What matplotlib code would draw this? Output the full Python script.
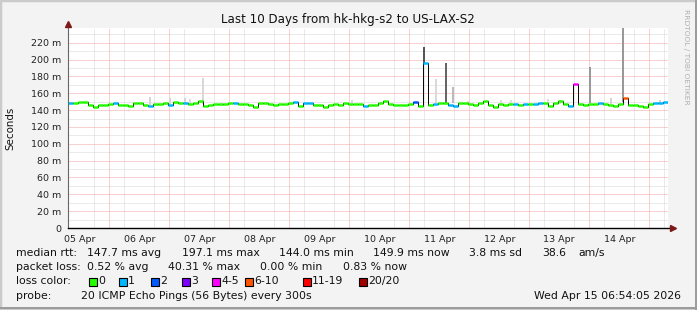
"""
SmokePing style latency graph, 10 days hk-hkg-s2 -> US-LAX-S2.
"""
from datetime import datetime, timedelta

import matplotlib
matplotlib.use("Agg")
import matplotlib.pyplot as plt
import matplotlib.dates as mdates
from matplotlib.ticker import MultipleLocator, FixedLocator, FuncFormatter
from matplotlib.patches import Rectangle

W, H = 697, 310
END = datetime(2026, 4, 15, 7, 30)
START = END - timedelta(days=10)
STEP = timedelta(hours=2)

# median rtt per 2h sample (ms)
MEDIAN_MS = [
    148, 148, 150, 150, 146.3, 144, 146.5, 146.5, 147, 148,
    146.5, 145.5, 145, 149, 148, 146.5, 145, 147, 147, 149,
    146.5, 150, 148.5, 148, 147, 148.5, 150.5, 145, 146.5, 147,
    147.5, 147, 148, 148.5, 147, 147, 146.5, 144, 149, 148,
    147, 146.5, 147, 147.5, 148.5, 149.5, 145, 148, 148, 146.5,
    146.5, 144, 146.5, 147, 146.5, 148, 147, 147, 147, 145,
    146.5, 146.5, 148, 151, 147, 146.5, 146.5, 146.5, 147, 150,
    145, 196.5, 146.5, 147, 148, 149, 146.5, 145, 149, 148,
    147, 146.5, 149, 151, 146.5, 144, 147, 146.5, 147, 147,
    146.5, 147, 147, 147, 148, 149, 145, 149, 151, 147,
    145, 171, 147, 146.5, 147, 147, 149, 147, 146.5, 145,
    147, 154, 146.5, 146.5, 145, 144, 147, 149, 149, 150,
]
# lost pings (of 20) per sample
LOSS = [
    1, 0, 0, 0, 0, 0, 0, 0, 0, 1,
    0, 0, 0, 0, 0, 0, 1, 0, 0, 0,
    1, 0, 0, 1, 0, 0, 0, 0, 0, 0,
    0, 0, 0, 1, 0, 0, 0, 0, 0, 0,
    0, 0, 0, 0, 0, 1, 0, 1, 1, 0,
    0, 0, 0, 0, 0, 0, 0, 0, 0, 1,
    0, 0, 0, 0, 0, 0, 0, 0, 0, 2,
    0, 1, 0, 1, 0, 0, 1, 1, 0, 0,
    0, 0, 0, 0, 0, 0, 0, 0, 0, 1,
    0, 1, 0, 1, 1, 0, 0, 0, 0, 0,
    1, 5, 0, 0, 0, 0, 1, 0, 0, 0,
    0, 8, 0, 0, 0, 0, 0, 1, 1, 1,
]

# smoke columns: position in samples, low/high rtt (ms), shade
SMOKE_POS = [16.4, 20.4, 23.4, 24.4, 27.0, 56.8, 71.2, 73.6, 75.6, 77.0,
             80.0, 86.6, 88.6, 96.0, 98.4, 104.4, 108.6, 111.0, 118.4]
SMOKE_LO = [146, 147, 147, 147, 147, 147, 196, 149, 149, 149,
            147, 147, 147, 147, 147, 148, 147, 150, 147]
SMOKE_HI = [156, 154, 154, 153, 178, 152, 215, 177, 196, 167,
            151, 152, 152, 153, 152, 191, 154, 237, 152]
SMOKE_GREY = ["#d4d4d4", "#d4d4d4", "#d4d4d4", "#dadada", "#d8d8d8", "#dadada",
              "#555555", "#d9d9d9", "#666666", "#bbbbbb", "#dddddd", "#dddddd",
              "#dddddd", "#dddddd", "#dddddd", "#999999", "#d4d4d4", "#999999",
              "#d4d4d4"]

LOSS_LABELS = ["0", "1", "2", "3", "4-5", "6-10", "11-19", "20/20"]
LOSS_COLORS = ["#26ff00", "#00b8ff", "#0059ff", "#7e00ff",
               "#ff00ff", "#ff5500", "#ff0000", "#a00000"]


def loss_bin(n):
    if n <= 3:
        return n
    if n <= 5:
        return 4
    if n <= 10:
        return 5
    if n <= 19:
        return 6
    return 7


def fx(px):
    return px / W


def fy(py):
    return 1 - py / H


fig = plt.figure(figsize=(W / 100, H / 100), dpi=100, facecolor="#f3f3f3")

# rrdtool style 3d frame
fig.patches.append(Rectangle((0, 0), 1, 1, transform=fig.transFigure,
                             fill=False, edgecolor="#cbcbcb", lw=2.5))
fig.patches.append(Rectangle((fx(0), fy(H - 1.5)), 1, fy(0) - fy(1.5),
                             transform=fig.transFigure, color="#9c9c9c", lw=0))
fig.patches.append(Rectangle((fx(W - 2.5), 0), fx(2.5), 1,
                             transform=fig.transFigure, color="#9c9c9c", lw=0))

ax = fig.add_axes([fx(68), fy(228), fx(600), (228 - 28) / H])
ax.set_facecolor("white")

t_edges = [mdates.date2num(START + i * STEP) for i in range(len(MEDIAN_MS) + 1)]
step_days = STEP.total_seconds() / 86400

# smoke
smoke_x = [t_edges[0] + p * step_days for p in SMOKE_POS]
ax.bar(smoke_x, [h - l for l, h in zip(SMOKE_LO, SMOKE_HI)], bottom=SMOKE_LO,
       width=step_days * 0.5, color=SMOKE_GREY, lw=0, zorder=2)

# median: thin black steps, thick loss-coloured plateaus
ax.step(t_edges, MEDIAN_MS + [MEDIAN_MS[-1]], where="post", color="black",
        lw=0.7, zorder=3)
ax.hlines(MEDIAN_MS, t_edges[:-1], t_edges[1:],
          colors=[LOSS_COLORS[loss_bin(n)] for n in LOSS], lw=1.8, zorder=4)

ax.set_xlim(mdates.date2num(START), mdates.date2num(END))
ax.set_ylim(0, 237.5)

# grid: grey minor (not on majors), dotted red majors
dot = (0, (1, 1))
GRID_MINOR = dict(color="#d6d6d6", lw=0.72, ls=dot, zorder=0)
GRID_MAJOR = dict(color="#f4a2a2", lw=0.72, ls=dot, zorder=1)
ax.yaxis.set_major_locator(MultipleLocator(20))
ax.yaxis.set_minor_locator(FixedLocator(range(10, 240, 20)))
ax.yaxis.set_major_formatter(FuncFormatter(lambda v, _: "0" if v == 0 else f"{v:.0f} m"))
ax.xaxis.set_major_locator(mdates.HourLocator(byhour=12))
ax.xaxis.set_minor_locator(mdates.HourLocator(byhour=[6, 12, 18]))
ax.xaxis.set_major_formatter(mdates.DateFormatter("%d %b"))
ax.grid(which="minor", axis="both", **GRID_MINOR)
ax.grid(which="major", axis="y", **GRID_MAJOR)
for d in mdates.DayLocator().tick_values(START, END):
    ax.axvline(d, **GRID_MAJOR)
ax.set_axisbelow(True)

ax.tick_params(which="both", length=0, labelsize=6.8, colors="#222222")
ax.tick_params(axis="x", pad=5)
ax.tick_params(axis="y", pad=5)
for s in ax.spines.values():
    s.set_visible(False)

# axes with arrows
ax.plot([0, 0], [0, 1.015], transform=ax.transAxes, color="#666666", lw=0.8,
        clip_on=False, zorder=5)
ax.plot([0, 1.006], [0, 0], transform=ax.transAxes, color="black", lw=1.0,
        clip_on=False, zorder=5)
ax.plot([0], [1.02], marker="^", ms=4.5, color="#7f1818", transform=ax.transAxes,
        clip_on=False, zorder=6)
ax.plot([1.008], [0], marker=">", ms=4.5, color="#7f1818", transform=ax.transAxes,
        clip_on=False, zorder=6)

# texts
fig.text(fx(348), fy(19), "Last 10 Days from hk-hkg-s2 to US-LAX-S2",
         ha="center", va="center", fontsize=8.6, color="#111111")
fig.text(fx(10), fy(128), "Seconds", rotation=90, ha="center", va="center",
         fontsize=7.4, color="#111111")
fig.text(fx(686), fy(57), "RRDTOOL / TOBI OETIKER", rotation=270, ha="center",
         va="center", fontsize=5.4, color="#b0b0b0")

LEG = 7.8
rows = [
    (253, [(16, "median rtt:"), (87, "147.7 ms avg"), (182, "197.1 ms max"),
           (279, "144.0 ms min"), (373, "149.9 ms now"), (469, "3.8 ms sd"),
           (542, "38.6"), (578, "am/s")]),
    (267, [(16, "packet loss:"), (87, "0.52 % avg"), (168, "40.31 % max"),
           (260, "0.00 % min"), (343, "0.83 % now")]),
    (296, [(16, "probe:"), (81, "20 ICMP Echo Pings (56 Bytes) every 300s")]),
]
for y, items in rows:
    for x, s in items:
        fig.text(fx(x), fy(y), s, ha="left", va="center", fontsize=LEG,
                 color="#111111")
fig.text(fx(681), fy(296), "Wed Apr 15 06:54:05 2026", ha="right", va="center",
         fontsize=LEG, color="#111111")

fig.text(fx(16), fy(281), "loss color:", ha="left", va="center", fontsize=LEG,
         color="#111111")
box_x = [89, 119, 151, 182, 212, 245, 303, 359]
for bx, lab, col in zip(box_x, LOSS_LABELS, LOSS_COLORS):
    fig.patches.append(Rectangle((fx(bx), fy(285.5)), fx(8), 8 / H,
                                 transform=fig.transFigure, facecolor=col,
                                 edgecolor="black", lw=0.8))
    fig.text(fx(bx + 9), fy(281), lab, ha="left", va="center", fontsize=LEG,
             color="#111111")

fig.savefig("out.png", dpi=100, facecolor=fig.get_facecolor())
